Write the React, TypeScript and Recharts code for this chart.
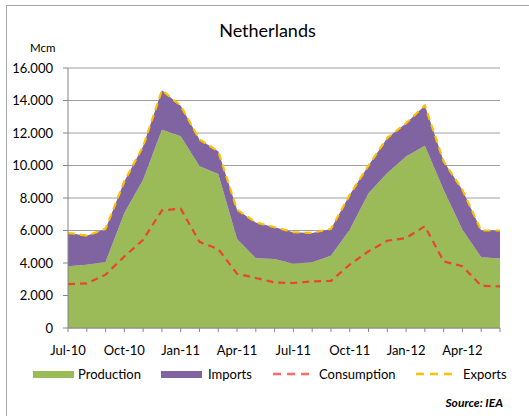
import React from "react";
import { AreaChart, Area, Line, XAxis, YAxis, CartesianGrid } from "recharts";

const months = [
  "Jul-10", "Aug-10", "Sep-10", "Oct-10", "Nov-10", "Dec-10",
  "Jan-11", "Feb-11", "Mar-11", "Apr-11", "May-11", "Jun-11",
  "Jul-11", "Aug-11", "Sep-11", "Oct-11", "Nov-11", "Dec-11",
  "Jan-12", "Feb-12", "Mar-12", "Apr-12", "May-12", "Jun-12",
];
const production = [
  3800, 3900, 4060, 7080, 9130, 12200, 11800, 9950, 9480, 5480, 4290, 4250,
  3960, 4040, 4450, 6050, 8300, 9540, 10560, 11220, 8500, 6050, 4350, 4270,
];
const imports = [
  2050, 1780, 2040, 1950, 2050, 2430, 1880, 1650, 1390, 1800, 2210, 1950,
  1940, 1810, 1650, 2150, 1700, 2160, 2040, 2480, 1760, 2450, 1650, 1730,
];
const consumption = [
  2700, 2750, 3280, 4400, 5430, 7240, 7340, 5300, 4860, 3340, 3080, 2800,
  2770, 2870, 2900, 3900, 4720, 5370, 5540, 6260, 4100, 3800, 2600, 2560,
];
const exportsSeries = [
  5850, 5680, 6100, 9030, 11180, 14630, 13680, 11600, 10870, 7280, 6500, 6200,
  5900, 5850, 6100, 8200, 10000, 11700, 12600, 13700, 10260, 8500, 6000, 6000,
];
const yTicks = [0, 2000, 4000, 6000, 8000, 10000, 12000, 14000, 16000];

const data = months.map((m, i) => ({
  month: m,
  production: production[i],
  imports: imports[i],
  consumption: consumption[i],
  exports: exportsSeries[i],
}));

const FONT = "Lato, 'Open Sans', sans-serif";
const GREEN = "#9BBB59";
const PURPLE = "#8064A2";
const RED = "#E8452F";
const YELLOW = "#FFC000";

const fmt = (v: number) =>
  v === 0 ? "0" : String(v).replace(/\B(?=(\d{3})+(?!\d))/g, ".");

const XTick = (props: any) => {
  const { x, y, payload, index } = props;
  if (index % 3 !== 0) return null;
  return (
    <text x={x} y={y} dy="0.71em" textAnchor="middle" fontSize={13} fill="#000" fontFamily={FONT}>
      {payload.value}
    </text>
  );
};

export default function App() {
  return (
    <div style={{ position: "absolute", left: 0, top: 0, width: 529, height: 416, background: "#fff", fontFamily: FONT, overflow: "hidden" }}>
      <div style={{ position: "absolute", left: 6, top: 5, width: 540, height: 430, borderLeft: "1px solid #a6a6a6", borderTop: "1px solid #a6a6a6" }} />
      <div style={{ position: "absolute", left: 0, width: 535, top: 19, textAlign: "center", fontSize: 18, color: "#000" }}>Netherlands</div>
      <div style={{ position: "absolute", left: 30, top: 41, fontSize: 11.5, color: "#000" }}>Mcm</div>
      <div style={{ position: "absolute", left: 0, top: 0 }}>
        <AreaChart width={529} height={416} data={data} margin={{ top: 68, right: 29, left: 8, bottom: 58 }}>
          <CartesianGrid vertical={false} stroke="#a0a0a0" strokeWidth={1} />
          <XAxis
            dataKey="month"
            interval={0}
            tick={<XTick />}
            tickSize={4}
            tickMargin={14}
            height={30}
            axisLine={{ stroke: "#868686" }}
            tickLine={{ stroke: "#868686" }}
          />
          <YAxis
            domain={[0, 16000]}
            ticks={yTicks}
            tickFormatter={fmt}
            width={60}
            tickSize={5}
            tickMargin={10}
            axisLine={{ stroke: "#868686" }}
            tickLine={{ stroke: "#868686" }}
            tick={{ fontSize: 13, fill: "#000", fontFamily: FONT }}
          />
          <Area type="linear" dataKey="production" stackId="a" fill={GREEN} fillOpacity={1} stroke="none" isAnimationActive={false} />
          <Area type="linear" dataKey="imports" stackId="a" fill={PURPLE} fillOpacity={1} stroke="none" isAnimationActive={false} />
          <Line type="linear" dataKey="consumption" stroke={RED} strokeWidth={2.2} strokeDasharray="7 5" dot={false} isAnimationActive={false} />
          <Line type="linear" dataKey="exports" stroke={YELLOW} strokeWidth={2.2} strokeDasharray="7 5" dot={false} isAnimationActive={false} />
        </AreaChart>
      </div>
      <div style={{ position: "absolute", top: 366, left: 0, width: 529, height: 16, fontSize: 13, color: "#000" }}>
        <div style={{ position: "absolute", left: 33, top: 5, width: 41, height: 7, background: GREEN }} />
        <div style={{ position: "absolute", left: 78, top: 0 }}>Production</div>
        <div style={{ position: "absolute", left: 161, top: 5, width: 41, height: 7, background: PURPLE }} />
        <div style={{ position: "absolute", left: 208, top: 0 }}>Imports</div>
        <svg style={{ position: "absolute", left: 273, top: 4 }} width={37} height={8}>
          <line x1={0} y1={4} x2={37} y2={4} stroke="#FF6A6A" strokeWidth={2.5} strokeDasharray="8 6" />
        </svg>
        <div style={{ position: "absolute", left: 319, top: 0 }}>Consumption</div>
        <svg style={{ position: "absolute", left: 416, top: 4 }} width={37} height={8}>
          <line x1={0} y1={4} x2={37} y2={4} stroke={YELLOW} strokeWidth={2.5} strokeDasharray="8 6" />
        </svg>
        <div style={{ position: "absolute", left: 463, top: 0 }}>Exports</div>
      </div>
      <div style={{ position: "absolute", right: 26, top: 395, fontSize: 12, fontWeight: "bold", fontStyle: "italic", color: "#000" }}>Source: IEA</div>
    </div>
  );
}
